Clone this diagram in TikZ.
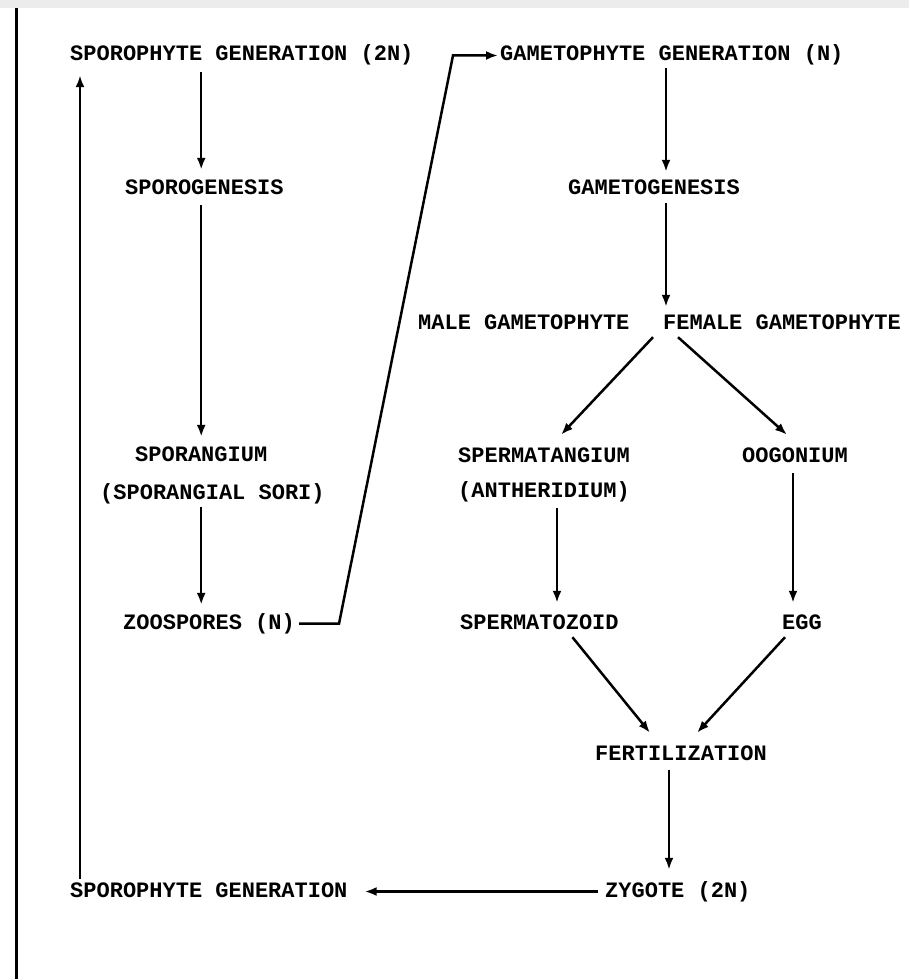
\documentclass[tikz,border=0pt]{standalone}
\usepackage{fontspec}
\setmainfont{Liberation Mono}
\usetikzlibrary{arrows.meta,calc}
\begin{document}
\begin{tikzpicture}[x=1pt,y=-1pt,anchor=base west,
  every node/.style={inner sep=0pt,text height=15pt,text depth=4pt,font=\bfseries\fontsize{22}{26}\selectfont},
  arr/.style={-{Latex[length=12pt,width=9pt]},line width=2.5pt,shorten <=7pt,shorten >=9pt}]
\useasboundingbox (0,0) rectangle (909,979);
\fill[gray!15] (0,0) rectangle (909,8);
\draw[line width=3pt] (16,8) -- (16,979);
% columns of the arrows
\coordinate (lret) at (80,0); \coordinate (gcol) at (666,0); \coordinate (scol) at (557,0);
\coordinate (ocol) at (793,0); \coordinate (fcol) at (669,0); \coordinate (zbend) at (453,0);
\node (sporon) at (70,61) {SPOROPHYTE GENERATION (2N)}; \node (gameton) at (500,61) {GAMETOPHYTE GENERATION (N)};
\node (sporogen) at (125,194) {SPOROGENESIS}; \node (gamgen) at (568,194) {GAMETOGENESIS};
\node (male) at (418,329) {MALE GAMETOPHYTE}; \node (female) at (663,329) {FEMALE GAMETOPHYTE};
\node (sporang) at (135,461) {SPORANGIUM}; \node (sori) at (100,499) {(SPORANGIAL SORI)};
\node (sperm) at (458,462) {SPERMATANGIUM}; \node (anth) at (458,497) {(ANTHERIDIUM)};
\node (oog) at (742,462) {OOGONIUM};
\node (zoo) at (123,629) {ZOOSPORES (N)}; \node (spermz) at (460,629) {SPERMATOZOID};
\node (egg) at (782,629) {EGG};
\node (fert) at (595,760) {FERTILIZATION};
\node (sporog) at (70,897) {SPOROPHYTE GENERATION}; \node (zyg) at (605,897) {ZYGOTE (2N)};
% sporophyte side
\draw[arr] (sporang |- sporon.south) -- (sporang |- sporogen.north);
\draw[arr] (sporang |- sporogen.south) -- (sporang |- sporang.north);
\draw[arr,shorten <=4pt] (sporang |- sori.south) -- (sporang |- zoo.north);
\draw[arr,shorten <=0pt,shorten >=2pt] ([xshift=4pt]zoo.east) -- ++(40,0) -- (zbend |- gameton.west) -- (gameton.west);
% gametophyte side
\draw[arr,shorten <=3pt,shorten >=7pt] (gcol |- gameton.south) -- (gcol |- gamgen.north);
\draw[arr,shorten <=5pt,shorten >=7pt] (gcol |- gamgen.south) -- (gcol |- female.north);
\draw[arr,shorten <=0pt,shorten >=0pt] ($(female.south west)+(-10,4)$) -- ($(sperm.north)+(17,-12)$);
\draw[arr,shorten <=0pt,shorten >=0pt] ($(female.south west)+(15,4)$) -- ($(oog.north)+(-8,-12)$);
\draw[arr,shorten >=11pt] (scol |- anth.south) -- (scol |- spermz.north);
\draw[arr,shorten >=11pt] (ocol |- oog.south) -- (ocol |- egg.north);
\draw[arr,shorten <=0pt,shorten >=0pt] ($(spermz.south)+(33,4)$) -- ($(fert.north)+(-31,-12)$);
\draw[arr,shorten <=0pt,shorten >=0pt] ($(egg.south)+(-17,4)$) -- ($(fert.north)+(16,-12)$);
\draw[arr,shorten <=6pt,shorten >=12pt] (fcol |- fert.south) -- (fcol |- zyg.north);
% back to the sporophyte
\draw[arr,shorten >=17pt] (zyg.west) -- (sporog.east);
\draw[arr,shorten <=3pt,shorten >=10pt] (lret |- sporog.north) -- (lret |- sporon.south);
\end{tikzpicture}
\end{document}
